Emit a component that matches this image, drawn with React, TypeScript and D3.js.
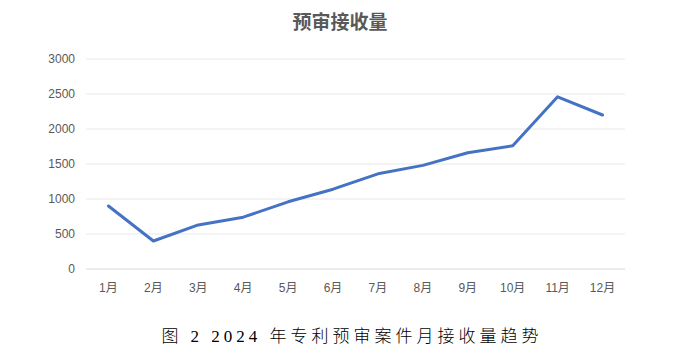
import React from "react";
import * as d3 from "d3";

const months = ["1月","2月","3月","4月","5月","6月","7月","8月","9月","10月","11月","12月"];
const values = [900, 400, 630, 740, 960, 1140, 1360, 1480, 1660, 1760, 2460, 2200];
const yTicks = [0, 500, 1000, 1500, 2000, 2500, 3000];
const title = "预审接收量";
const caption = "图 2 2024 年专利预审案件月接收量趋势";

export default function App() {
  const W = 695, H = 358;
  const left = 86, right = 625, top = 59, bottom = 269;
  const x = d3.scaleBand<string>().domain(months).range([left, right]);
  const y = d3.scaleLinear().domain([0, 3000]).range([bottom, top]);
  const line = d3.line<number>()
    .x((_, i) => (x(months[i]) as number) + x.bandwidth() / 2)
    .y(d => y(d));
  const font = "'Liberation Sans', 'Noto Sans CJK SC', sans-serif";
  return (
    <svg width={W} height={H} style={{ position: "absolute", left: 0, top: 0, background: "#fff" }}>
      <text x={340} y={29} textAnchor="middle" fontSize={19} fontWeight="bold" fill="#595959"
        fontFamily="'Noto Sans CJK SC', sans-serif">{title}</text>
      {yTicks.map(t => (
        <g key={t}>
          <line x1={left} x2={right} y1={y(t)} y2={y(t)} stroke={t === 0 ? "#d9d9d9" : "#e8e8e8"} strokeWidth={1} />
          <text x={75} y={y(t) + 4} textAnchor="end" fontSize={12} fill="#595959" fontFamily={font}>{t}</text>
        </g>
      ))}
      {months.map(m => (
        <text key={m} x={(x(m) as number) + x.bandwidth() / 2} y={292} textAnchor="middle" fontSize={12}
          fill="#595959" fontFamily={font}>{m}</text>
      ))}
      <path d={line(values) || ""} fill="none" stroke="#4472C4" strokeWidth={3} strokeLinejoin="round" strokeLinecap="round" />
      <text x={352} y={342} textAnchor="middle" fontSize={17} fill="#000" letterSpacing={4} fontWeight={300}
        fontFamily="'Liberation Serif', 'Noto Sans CJK SC', serif">{caption}</text>
    </svg>
  );
}
